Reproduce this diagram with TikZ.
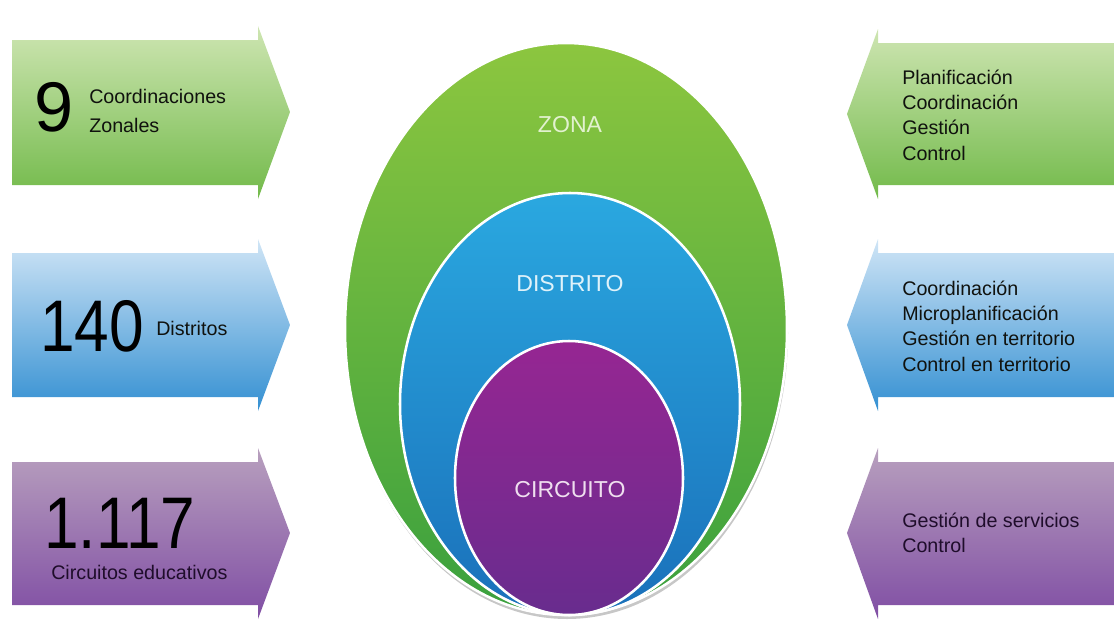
\documentclass[tikz,border=0pt]{standalone}
\usepackage{fontspec}
\setmainfont{Liberation Sans}
\newfontfamily\bignum[FakeStretch=0.85]{Liberation Sans}
\usepackage{tikz}
\usetikzlibrary{positioning,calc}
\definecolor{gtop}{RGB}{206,229,178}
\definecolor{gbot}{RGB}{114,186,74}
\definecolor{btop}{RGB}{208,229,246}
\definecolor{bbot}{RGB}{52,144,210}
\definecolor{ptop}{RGB}{184,160,190}
\definecolor{pbot}{RGB}{128,78,164}
\definecolor{zonatop}{RGB}{140,198,63}
\definecolor{zonabot}{RGB}{58,160,62}
\definecolor{distop}{RGB}{42,168,224}
\definecolor{disbot}{RGB}{26,112,186}
\definecolor{cirtop}{RGB}{150,38,146}
\definecolor{cirbot}{RGB}{104,44,142}
\definecolor{txtdark}{RGB}{16,18,14}
\tikzstyle{tag}=[anchor=west,align=left,inner sep=0pt,text=txtdark,font=\fontsize{14}{18}\selectfont]
\tikzstyle{bignr}=[inner sep=0pt,text=black,font=\fontsize{50}{50}\selectfont]
\tikzstyle{ringtxt}=[inner sep=0pt,font=\fontsize{16.4}{18}\selectfont]

\begin{document}
\begin{tikzpicture}[x=0.025cm,y=-0.025cm]
\useasboundingbox (0,0) rectangle (1114,627);
\tikzstyle{every path}=[line join=miter]
% arrows pointing to the rings
\shade[top color=gtop,bottom color=gbot] (12,40) -- (258,40) -- (258,26) -- (290,112) -- (258,199) -- (258,185) -- (12,185) -- cycle;
\shade[top color=btop,bottom color=bbot] (12,253) -- (258,253) -- (258,239) -- (290,325) -- (258,411) -- (258,397) -- (12,397) -- cycle;
\shade[top color=ptop,bottom color=pbot] (12,462) -- (258,462) -- (258,448) -- (290,533) -- (258,619) -- (258,605) -- (12,605) -- cycle;
\shade[top color=gtop,bottom color=gbot] (1114,43) -- (878,43) -- (878,29) -- (847,114) -- (878,199) -- (878,185) -- (1114,185) -- cycle;
\shade[top color=btop,bottom color=bbot] (1114,253) -- (878,253) -- (878,239) -- (847,325) -- (878,411) -- (878,397) -- (1114,397) -- cycle;
\shade[top color=ptop,bottom color=pbot] (1114,462) -- (878,462) -- (878,448) -- (847,533) -- (878,619) -- (878,605) -- (1114,605) -- cycle;

% rings
\fill[black!22] (567,333) ellipse [x radius=221, y radius=286];
\shade[top color=zonatop,bottom color=zonabot,draw=white,line width=1.8] (566,329) ellipse [x radius=221, y radius=286];
\shade[top color=distop,bottom color=disbot,draw=white,line width=1.8] (570,404) ellipse [x radius=170, y radius=211];
\shade[top color=cirtop,bottom color=cirbot,draw=white,line width=1.8] (569,478) ellipse [x radius=114, y radius=137];

\node (zona) [ringtxt,text=zonatop!25!white] at (570,125) {ZONA};
\node (distrito) [ringtxt,text=distop!15!white] at (570,284) {DISTRITO};
\node (circuito) [ringtxt,text=cirtop!15!white] at (570,490) {CIRCUITO};

% left side
\node (nueve) [bignr] at (54,107) {9};
\node (coordz) [tag,font=\fontsize{14}{20}\selectfont] at (89,111) {Coordinaciones\\Zonales};
\node (ciento) [bignr,font=\bignum\fontsize{52}{52}\selectfont,anchor=west] at (40,326) {140};
\node (distr) [tag] at (156,328) {Distritos};
\node (mil) [bignr,font=\bignum\fontsize{52}{52}\selectfont,anchor=west] at (44,523) {1.117};
\node (circ) [tag,text=cirbot!30!black] at (51,572) {Circuitos educativos};

% right side
\node (fzona) [tag] at (902,115) {Planificación\\Coordinación\\Gestión\\Control};
\node (fdistr) [tag] at (902,326) {Coordinación\\Microplanificación\\Gestión en territorio\\Control en territorio};
\node (fcirc) [tag,text=cirbot!30!black] at (902,533) {Gestión de servicios\\Control};
\end{tikzpicture}
\end{document}
